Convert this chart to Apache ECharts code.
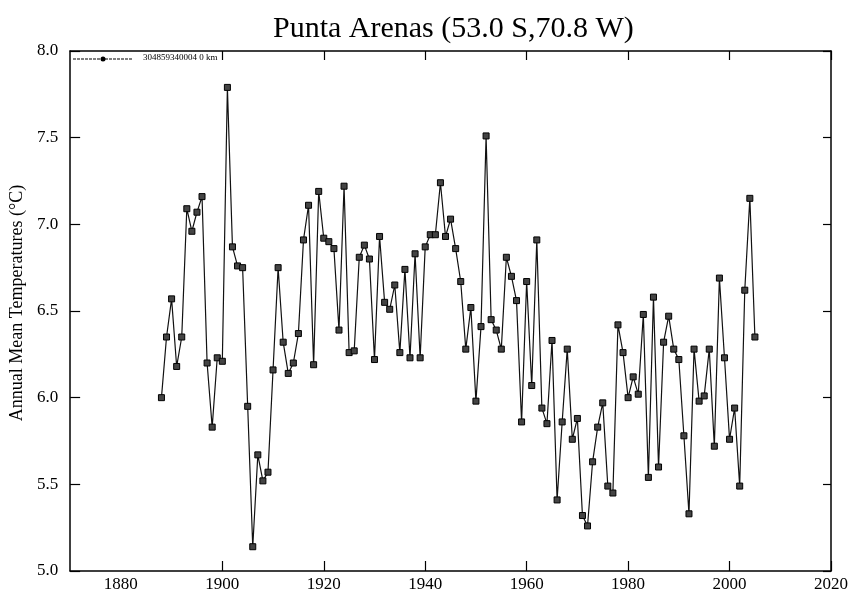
<!DOCTYPE html>
<html>
<head>
<meta charset="utf-8">
<script src="https://cdn.jsdelivr.net/npm/echarts@6/dist/echarts.min.js"></script>
<style>html,body{margin:0;padding:0;background:#fff}#c{width:854px;height:597px}</style>
</head>
<body>
<div id="c"></div>
<script>
const titleText = 'Punta Arenas (53.0 S,70.8 W)';
const yAxisName = 'Annual Mean Temperatures (\u00B0C)';
const legendName = '304859340004 0 km';
const years = [];
for (let y = 1888; y <= 2005; y++) years.push(y);
const temps = [
  6.00, 6.35, 6.57, 6.18, 6.35, 7.09, 6.96, 7.07, 7.16, 6.20, // 1888-1897
  5.83, 6.23, 6.21, 7.79, 6.87, 6.76, 6.75, 5.95, 5.14, 5.67, // 1898-1907
  5.52, 5.57, 6.16, 6.75, 6.32, 6.14, 6.20, 6.37, 6.91, 7.11, // 1908-1917
  6.19, 7.19, 6.92, 6.90, 6.86, 6.39, 7.22, 6.26, 6.27, 6.81, // 1918-1927
  6.88, 6.80, 6.22, 6.93, 6.55, 6.51, 6.65, 6.26, 6.74, 6.23, // 1928-1937
  6.83, 6.23, 6.87, 6.94, 6.94, 7.24, 6.93, 7.03, 6.86, 6.67, // 1938-1947
  6.28, 6.52, 5.98, 6.41, 7.51, 6.45, 6.39, 6.28, 6.81, 6.70, // 1948-1957
  6.56, 5.86, 6.67, 6.07, 6.91, 5.94, 5.85, 6.33, 5.41, 5.86, // 1958-1967
  6.28, 5.76, 5.88, 5.32, 5.26, 5.63, 5.83, 5.97, 5.49, 5.45, // 1968-1977
  6.42, 6.26, 6.00, 6.12, 6.02, 6.48, 5.54, 6.58, 5.60, 6.32, // 1978-1987
  6.47, 6.28, 6.22, 5.78, 5.33, 6.28, 5.98, 6.01, 6.28, 5.72, // 1988-1997
  6.69, 6.23, 5.76, 5.94, 5.49, 6.62, 7.15, 6.35              // 1998-2005
];
const xLabelValues = [1880, 1900, 1920, 1940, 1960, 1980, 2000, 2020];
const xTickValues = [1900, 1920, 1940, 1960, 1980, 2000, 2020];

const serif = '"Liberation Serif", "DejaVu Serif", serif';
const chart = echarts.init(document.getElementById('c'), null, {renderer: 'canvas'});
const G = {left: 68, right: 23, top: 51, bottom: 26};

chart.setOption({
  backgroundColor: '#fff',
  animation: false,
  title: {
    text: titleText, left: 268, top: 9,
    textStyle: {fontFamily: serif, fontSize: 30, fontWeight: 'normal', color: '#000'}
  },
  grid: G,
  xAxis: [{
    type: 'value', min: 1870, max: 2020, position: 'bottom',
    axisLine: {lineStyle: {color: '#000', width: 1.5}},
    axisTick: {inside: true, length: 10, customValues: xTickValues, lineStyle: {color: '#000', width: 1.2}},
    axisLabel: {customValues: xLabelValues, fontFamily: serif, fontSize: 17, color: '#000', margin: 5,
      formatter: v => String(v)},
    splitLine: {show: false}
  }, {
    type: 'value', min: 1870, max: 2020, position: 'top',
    axisLine: {lineStyle: {color: '#000', width: 1.5}},
    axisTick: {inside: true, length: 9, customValues: xTickValues, lineStyle: {color: '#000', width: 1.2}},
    axisLabel: {show: false},
    splitLine: {show: false}
  }],
  yAxis: [{
    type: 'value', min: 5, max: 8, interval: 0.5, position: 'left',
    name: yAxisName, nameLocation: 'middle', nameGap: 41, nameRotate: 90,
    nameTextStyle: {fontFamily: serif, fontSize: 18, color: '#000', padding: [0, 0, 0, 16]},
    axisLine: {lineStyle: {color: '#000', width: 1.5}},
    axisTick: {inside: true, length: 10, lineStyle: {color: '#000', width: 1.2}},
    axisLabel: {fontFamily: serif, fontSize: 17, color: '#000', margin: 12,
      formatter: v => v.toFixed(1)},
    splitLine: {show: false}
  }, {
    type: 'value', min: 5, max: 8, interval: 0.5, position: 'right',
    axisLine: {lineStyle: {color: '#000', width: 1.5}},
    axisTick: {inside: true, length: 8, lineStyle: {color: '#000', width: 1.2}},
    axisLabel: {show: false},
    splitLine: {show: false}
  }],
  series: [{
    name: legendName,
    type: 'line',
    xAxisIndex: 0, yAxisIndex: 0,
    data: years.map((y, i) => [y, temps[i]]),
    symbol: 'rect', symbolSize: 6,
    lineStyle: {color: '#111', width: 1.2},
    itemStyle: {color: '#444', borderColor: '#000', borderWidth: 1},
    z: 3
  }],
  graphic: [
    {type: 'line', shape: {x1: 73, y1: 59, x2: 133, y2: 59},
     style: {stroke: '#000', lineWidth: 1.2, lineDash: [3, 1]}},
    {type: 'circle', shape: {cx: 103, cy: 59, r: 2.5}, style: {fill: '#000'}},
    {type: 'text', left: 143, top: 53,
     style: {text: legendName, font: '9px ' + serif, fill: '#000'}}
  ]
});
</script>
</body>
</html>
